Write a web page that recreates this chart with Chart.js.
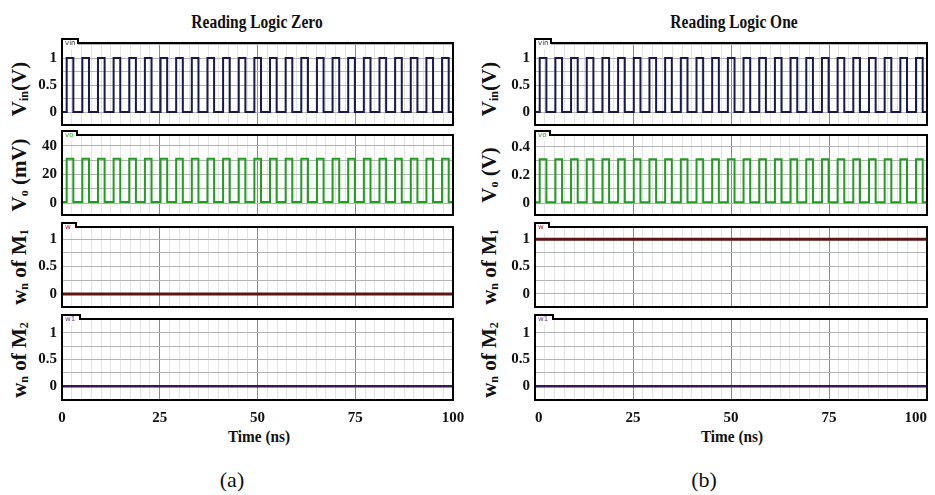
<!DOCTYPE html>
<html>
<head>
<meta charset="utf-8">
<script src="https://cdn.jsdelivr.net/npm/chart.js@4.4.1/dist/chart.umd.min.js"></script>
<style>
  body { margin: 0; width: 935px; height: 495px; background: #fff; position: relative; overflow: hidden;
         font-family: "Liberation Serif", "Times New Roman", serif; }
  .box { position: absolute; }
  .txt { position: absolute; white-space: nowrap; transform: translate(-50%, -50%); color: #111; }
  .head { font-weight: bold; font-size: 18px; transform: translate(-50%, -50%) scaleX(0.86); }
  .ylab { font-weight: bold; font-size: 21px; transform: translate(-50%, -50%) rotate(-90deg); }
  .ylab sub { font-size: 12px; vertical-align: -2px; }
  .xlab { font-weight: bold; font-size: 17px; transform: translate(-50%, -50%) scaleX(0.9); }
  .cap { font-size: 22px; }
</style>
</head>
<body>
<div class="txt head" style="left:257px;top:22px">Reading Logic Zero</div>
<div class="txt head" style="left:734px;top:22px">Reading Logic One</div>

<div class="txt ylab" style="left:19px;top:89px">V<sub>in</sub>(V)</div>
<div class="txt ylab" style="left:19px;top:175px">V<sub>o</sub> (mV)</div>
<div class="txt ylab" style="left:19px;top:267px">w<sub>n</sub> of M<sub>1</sub></div>
<div class="txt ylab" style="left:19px;top:360px">w<sub>n</sub> of M<sub>2</sub></div>
<div class="txt ylab" style="left:489px;top:89px">V<sub>in</sub>(V)</div>
<div class="txt ylab" style="left:489px;top:175px">V<sub>o</sub> (V)</div>
<div class="txt ylab" style="left:489px;top:267px">w<sub>n</sub> of M<sub>1</sub></div>
<div class="txt ylab" style="left:489px;top:360px">w<sub>n</sub> of M<sub>2</sub></div>

<div class="txt xlab" style="left:259px;top:437px">Time (ns)</div>
<div class="txt xlab" style="left:732px;top:437px">Time (ns)</div>
<div class="txt cap" style="left:232px;top:480px">(a)</div>
<div class="txt cap" style="left:704px;top:480px">(b)</div>

<script>
// time axis (ns)
const timeTicks = [0, 25, 50, 75, 100];
// pulse edges (same for Vin and Vo)
const riseTimes = [1.2, 5.2, 9.2, 13.2, 17.2, 21.2, 25.2, 29.2, 33.2, 37.2, 41.2, 45.2, 49.2,
                   53.2, 57.2, 61.2, 65.2, 69.2, 73.2, 77.2, 81.2, 85.2, 89.2, 93.2, 97.2];
const fallTimes = [2.9, 6.9, 10.9, 14.9, 18.9, 22.9, 26.9, 30.9, 34.9, 38.9, 42.9, 46.9, 50.9,
                   54.9, 58.9, 62.9, 66.9, 70.9, 74.9, 78.9, 82.9, 86.9, 90.9, 94.9, 98.9];
// [low, high] levels
const vinLevels = [0, 1];
const voZeroLevels = [0.8, 31];    // mV
const voOneLevels = [0.005, 0.31]; // V
// constant state variables
const wM1Zero = 0;
const wM1One = 1;
const wM2Zero = 0;
const wM2One = 0;
// y tick labels
const vinTicks = [0, 0.5, 1];
const voZeroTicks = [0, 20, 40];
const voOneTicks = [0, 0.2, 0.4];
const wTicks = [0, 0.5, 1];

function pulseData(levels) {
  const pts = [{ x: timeTicks[0], y: levels[0] }];
  for (let i = 0; i < riseTimes.length; i++) {
    pts.push({ x: riseTimes[i], y: levels[1] });
    pts.push({ x: fallTimes[i], y: levels[0] });
  }
  pts.push({ x: timeTicks[timeTicks.length - 1], y: levels[0] });
  return pts;
}
function flatData(v) {
  return [{ x: timeTicks[0], y: v }, { x: timeTicks[timeTicks.length - 1], y: v }];
}

const framePlugin = {
  id: 'frame',
  afterDraw(chart, args, opts) {
    const { ctx, chartArea: a } = chart;
    const tw = opts.tabW, th = 4;
    ctx.save();
    ctx.fillStyle = '#fff';
    ctx.fillRect(a.left, a.top - th, tw, th + 6);
    ctx.fillStyle = opts.tabColor;
    ctx.font = '7px "DejaVu Sans", sans-serif';
    ctx.textBaseline = 'top';
    ctx.fillText(opts.tab, a.left + 3, a.top - 3);
    ctx.strokeStyle = '#000';
    ctx.lineWidth = 2;
    ctx.beginPath();
    ctx.moveTo(a.left, a.top - th);
    ctx.lineTo(a.left + tw, a.top - th);
    ctx.lineTo(a.left + tw, a.top);
    ctx.lineTo(a.right, a.top);
    ctx.lineTo(a.right, a.bottom);
    ctx.lineTo(a.left, a.bottom);
    ctx.closePath();
    ctx.stroke();
    ctx.restore();
  }
};

const rows = [
  { top: 43, bottom: 125 },
  { top: 135, bottom: 215 },
  { top: 227, bottom: 307 },
  { top: 319, bottom: 400 }
];
const cols = [
  { left: 0, width: 465, axisW: 62, padR: 12, xAlign: 'center' },
  { left: 465, width: 470, axisW: 70, padR: 8, xAlign: 'inner' }
];

const panels = [
  // column a
  { col: 0, row: 0, data: pulseData(vinLevels), color: '#161a4f', lw: 2, min: -0.24, max: 1.28, step: 0.25, labels: vinTicks, tab: 'vin', tabColor: '#333', tabW: 16 },
  { col: 0, row: 1, data: pulseData(voZeroLevels), color: '#1f9e1f', lw: 2, min: -8.4, max: 47.7, step: 10, labels: voZeroTicks, tab: 'vo', tabColor: '#2a2', tabW: 15 },
  { col: 0, row: 2, data: flatData(wM1Zero), color: '#5e1515', lw: 3, min: -0.24, max: 1.225, step: 0.25, labels: wTicks, tab: 'w', tabColor: '#a22', tabW: 14 },
  { col: 0, row: 3, data: flatData(wM2Zero), color: '#3b1656', lw: 2.5, min: -0.26, max: 1.26, step: 0.25, labels: wTicks, tab: 'w1', tabColor: '#639', tabW: 18 },
  // column b
  { col: 1, row: 0, data: pulseData(vinLevels), color: '#161a4f', lw: 2, min: -0.24, max: 1.28, step: 0.25, labels: vinTicks, tab: 'vin', tabColor: '#333', tabW: 16 },
  { col: 1, row: 1, data: pulseData(voOneLevels), color: '#1f9e1f', lw: 2, min: -0.085, max: 0.483, step: 0.1, labels: voOneTicks, tab: 'vo', tabColor: '#2a2', tabW: 15 },
  { col: 1, row: 2, data: flatData(wM1One), color: '#5e1515', lw: 3, min: -0.24, max: 1.225, step: 0.25, labels: wTicks, tab: 'w', tabColor: '#a22', tabW: 14 },
  { col: 1, row: 3, data: flatData(wM2One), color: '#3b1656', lw: 2.5, min: -0.26, max: 1.26, step: 0.25, labels: wTicks, tab: 'w1', tabColor: '#639', tabW: 18 }
];

const tickFont = { family: 'Liberation Serif', size: 15, weight: 'bold' };
const padTop = 7, padBot = 3, xAxisH = 30;

panels.forEach(p => {
  const c = cols[p.col], r = rows[p.row];
  const last = p.row === rows.length - 1;
  const h = (r.bottom - r.top) + padTop + (last ? xAxisH : padBot);
  const box = document.createElement('div');
  box.className = 'box';
  box.style.left = c.left + 'px';
  box.style.top = (r.top - padTop) + 'px';
  const cv = document.createElement('canvas');
  cv.width = c.width;
  cv.height = h;
  box.appendChild(cv);
  document.body.appendChild(box);

  new Chart(cv, {
    type: 'line',
    data: { datasets: [{ data: p.data, borderColor: p.color, borderWidth: p.lw, pointRadius: 0, stepped: true, fill: false }] },
    options: {
      responsive: false,
      animation: false,
      devicePixelRatio: 1,
      layout: { padding: { top: padTop, right: c.padR, bottom: last ? 0 : padBot, left: 0 } },
      plugins: {
        legend: { display: false },
        tooltip: { enabled: false },
        frame: { tab: p.tab, tabColor: p.tabColor, tabW: p.tabW }
      },
      scales: {
        x: {
          type: 'linear', min: 0, max: 100,
          afterBuildTicks: s => { const t = []; for (let v = 0; v <= 100; v += 2.5) t.push({ value: v }); s.ticks = t; },
          afterFit: s => { s.height = last ? xAxisH : 0; s.paddingLeft = 0; s.paddingRight = 0; },
          border: { display: false },
          grid: { drawTicks: false, lineWidth: 1, color: ctx => (ctx.tick.value % 25 === 0 ? '#8a8a8a' : '#e4e4e4') },
          ticks: {
            display: last, padding: 9, color: '#111', font: tickFont, maxRotation: 0, autoSkip: false,
            align: c.xAlign,
            callback: v => (timeTicks.includes(v) ? String(v) : '')
          }
        },
        y: {
          type: 'linear', min: p.min, max: p.max,
          afterBuildTicks: s => {
            const t = [];
            for (let k = Math.ceil(p.min / p.step); k * p.step <= p.max + 1e-9; k++) t.push({ value: +(k * p.step).toFixed(4) });
            s.ticks = t;
          },
          afterFit: s => { s.width = c.axisW; s.paddingTop = 0; s.paddingBottom = 0; },
          border: { display: false },
          grid: { drawTicks: false, lineWidth: 1, color: '#b4b4b4' },
          ticks: {
            padding: 5, color: '#111', font: tickFont, autoSkip: false,
            callback: v => (p.labels.some(l => Math.abs(l - v) < 1e-6) ? String(v) : '')
          }
        }
      }
    },
    plugins: [framePlugin]
  });
});
</script>
</body>
</html>
